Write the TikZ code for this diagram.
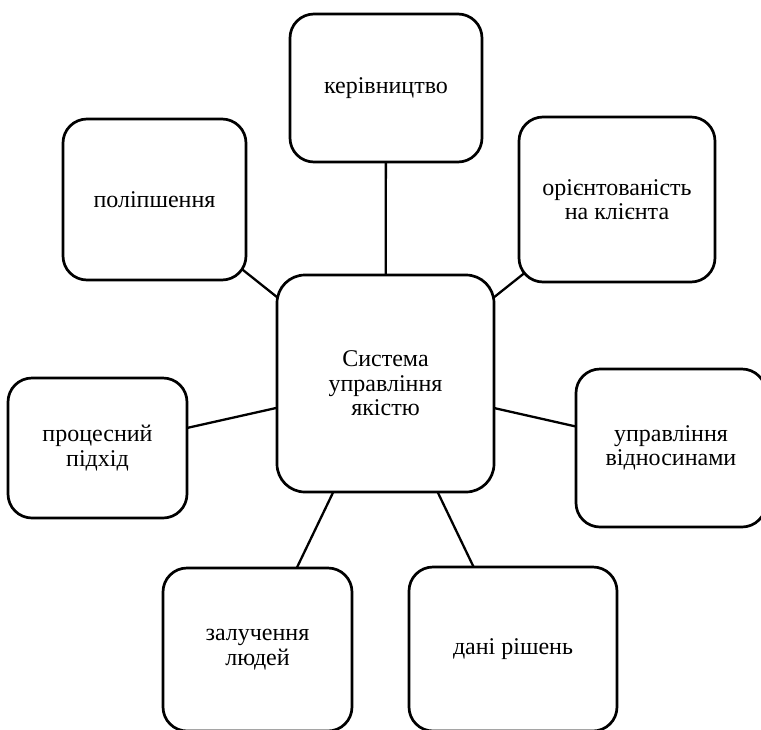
\documentclass[tikz,border=0pt]{standalone}
\usepackage{fontspec}
\setmainfont{Liberation Serif}
\usetikzlibrary{backgrounds}

\begin{document}
\begin{tikzpicture}[x=1pt, y=-1pt,
    box/.style={draw, fill=white, line width=2.7pt, rounded corners=24pt, align=center, inner sep=0pt, font=\fontsize{24}{24.5}\selectfont},
    link/.style={line width=2.3pt}]
      \clip (0,0) rectangle (761,729);
      \node[box, minimum width=217pt, minimum height=217pt, rounded corners=28pt] (sys) at (385.5, 383.5) {Система\\управління\\якістю};
      \node[box, minimum width=192pt, minimum height=148pt] (ker) at (386, 88) {керівництво};
      \node[box, minimum width=183pt, minimum height=161pt] (pol) at (154.5, 199.5) {поліпшення};
      \node[box, minimum width=196pt, minimum height=165pt] (ori) at (617, 199.5) {орієнтованість\\на клієнта};
      \node[box, minimum width=179pt, minimum height=140pt] (proc) at (97.5, 448) {процесний\\підхід};
      \node[box, minimum width=190pt, minimum height=158pt] (vidn) at (671, 448) {управління\\відносинами};
      \node[box, minimum width=189pt, minimum height=163pt] (lyud) at (257.5, 649.5) {залучення\\людей};
      \node[box, minimum width=208pt, minimum height=164pt] (rish) at (513, 649) {дані рішень};
      \begin{scope}[on background layer]
        \draw[link] (sys.center) -- (ker.center);
        \draw[link] (sys.center) -- (pol.center);
        \draw[link] (sys.center) -- (ori.center);
        \draw[link] (sys.center) -- (proc.center);
        \draw[link] (sys.center) -- (vidn.center);
        \draw[link] (sys.center) -- (lyud.center);
        \draw[link] (sys.center) -- (rish.center);
      \end{scope}
\end{tikzpicture}
\end{document}
